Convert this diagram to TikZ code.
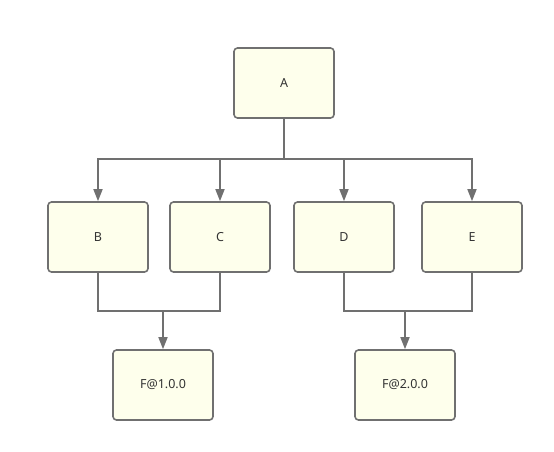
\documentclass[tikz,border=0pt]{standalone}
\usepackage{fontspec}
\setmainfont{Noto Sans}
\usetikzlibrary{arrows.meta}
\definecolor{boxfill}{HTML}{FEFFEC}
\definecolor{linec}{HTML}{707070}
\definecolor{txt}{HTML}{333333}
\tikzset{
  x=1pt,y=-1pt,
  blk/.style={draw=linec,fill=boxfill,line width=1.6pt,rounded corners=3.5pt,
    minimum width=100pt,minimum height=70pt,inner sep=0pt,
    font=\fontsize{12.5}{14}\selectfont,text=txt},
  conn/.style={draw=linec,line width=1.6pt},
  arr/.style={conn,-{Triangle[length=12pt,width=9pt]}}
}
\begin{document}
\begin{tikzpicture}
\useasboundingbox (0,0) rectangle (554,451);
\node[blk] (A) at (284,83) {A};
\node[blk] (B) at (98,237) {B};
\node[blk] (C) at (220,237) {C};
\node[blk] (D) at (344,237) {D};
\node[blk] (E) at (472,237) {E};
\node[blk] (F1) at (163,385) {F@1.0.0};
\node[blk] (F2) at (405,385) {F@2.0.0};
\coordinate (bus) at (284,159);
\coordinate (busL) at (163,311);
\coordinate (busR) at (405,311);
\draw[conn] (A.south) -- (bus);
\draw[arr] (bus) -| (B.north);
\draw[arr] (bus) -| (C.north);
\draw[arr] (bus) -| (D.north);
\draw[arr] (bus) -| (E.north);
\draw[conn] (B.south) |- (busL);
\draw[conn] (C.south) |- (busL);
\draw[arr] (busL) -- (F1.north);
\draw[conn] (D.south) |- (busR);
\draw[conn] (E.south) |- (busR);
\draw[arr] (busR) -- (F2.north);
\end{tikzpicture}
\end{document}
